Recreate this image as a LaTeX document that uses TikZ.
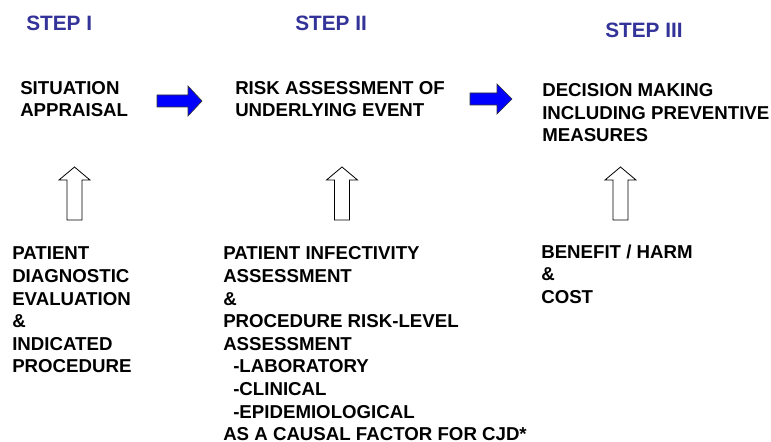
\documentclass[tikz,border=0pt]{standalone}
\usepackage{fontspec}
\setmainfont{Liberation Sans}
\definecolor{stepblue}{RGB}{51,51,153}
\definecolor{arrowblue}{RGB}{0,0,255}
\begin{document}
\begin{tikzpicture}[x=0.75pt,y=-0.75pt,
  steplbl/.style={font=\bfseries\fontsize{15.6}{18}\selectfont, text=stepblue, anchor=base west, inner sep=0},
  lbl/.style={font=\bfseries\fontsize{14}{17}\selectfont, anchor=base west, inner sep=0},
  bluearrow/.style={fill=arrowblue, draw=black!80, line width=0.5pt, line join=miter},
  hollowarrow/.style={draw=black, fill=white, line width=0.6pt, line join=miter}]
\useasboundingbox (0,0) rectangle (771,442);
% step titles
\node[steplbl] (s1) at (26,31) {STEP I};
\node[steplbl] (s2) at (295,31) {STEP II};
\node[steplbl] (s3) at (605,38) {STEP III};
% top column 1
\node[lbl] (t1a) at (20,95) {SITUATION};
\node[lbl] (t1b) at (20,117) {APPRAISAL};
% top column 2
\node[lbl] (t2a) at (235,95) {RISK ASSESSMENT OF};
\node[lbl] (t2b) at (235,117) {UNDERLYING EVENT};
% top column 3
\node[lbl] (t3a) at (542,97) {DECISION MAKING};
\node[lbl] (t3b) at (542,119.5) {INCLUDING PREVENTIVE};
\node[lbl] (t3c) at (542,142) {MEASURES};
% bottom column 1
\node[lbl] (b1a) at (12,259) {PATIENT};
\node[lbl] (b1b) at (12,282) {DIAGNOSTIC};
\node[lbl] (b1c) at (12,305) {EVALUATION};
\node[lbl] (b1d) at (12,327) {\&};
\node[lbl] (b1e) at (12,350) {INDICATED};
\node[lbl] (b1f) at (12,372) {PROCEDURE};
% bottom column 2
\node[lbl] (b2a) at (223,259) {PATIENT INFECTIVITY};
\node[lbl] (b2b) at (223,282) {ASSESSMENT};
\node[lbl] (b2c) at (223,305) {\&};
\node[lbl] (b2d) at (223,327) {PROCEDURE RISK-LEVEL};
\node[lbl] (b2e) at (223,350) {ASSESSMENT};
\node[lbl] (b2f) at (233,372) {-LABORATORY};
\node[lbl] (b2g) at (233,395) {-CLINICAL};
\node[lbl] (b2h) at (233,418) {-EPIDEMIOLOGICAL};
\node[lbl] (b2i) at (223,440) {AS A CAUSAL FACTOR FOR CJD*};
% bottom column 3
\node[lbl] (b3a) at (541,258) {BENEFIT / HARM};
\node[lbl] (b3b) at (541,280) {\&};
\node[lbl] (b3c) at (541,303) {COST};
% blue block arrows (step to step)
\draw[bluearrow] (157,95) -- (188,95) -- (188,86) -- (202,101) -- (188,116) -- (188,107) -- (157,107) -- cycle;
\draw[bluearrow] (470,93) -- (497,93) -- (497,84) -- (512,99) -- (497,114) -- (497,105) -- (470,105) -- cycle;
% hollow up arrows
\foreach \cx/\nm in {74.5/h1, 342/h2, 620.5/h3}{
  \draw[hollowarrow] (\cx-7.5,220) -- (\cx-7.5,180) -- (\cx-15.5,180) -- (\cx,167)
     -- (\cx+15.5,180) -- (\cx+7.5,180) -- (\cx+7.5,220) -- cycle;
}
\end{tikzpicture}
\end{document}
